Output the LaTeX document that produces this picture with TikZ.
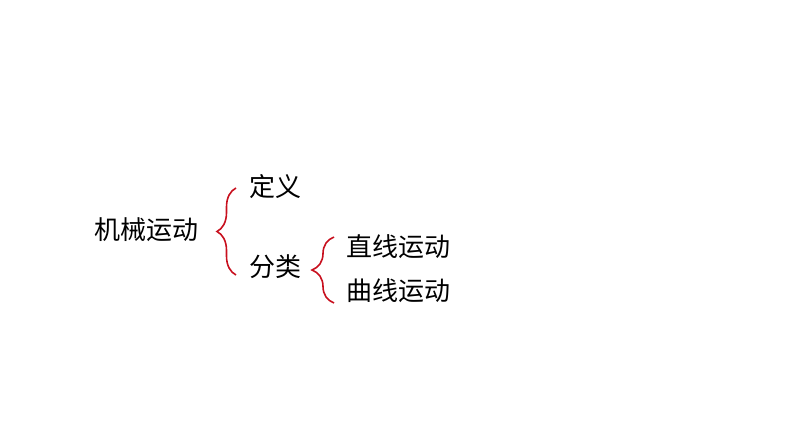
\documentclass[tikz,border=0pt]{standalone}
\usepackage{fontspec}
\newfontfamily\cjk{Noto Sans CJK SC}
\usetikzlibrary{decorations.pathreplacing}
\definecolor{bracered}{RGB}{200,16,30}
\begin{document}
\begin{tikzpicture}[x=1pt,y=-1pt,
  lbl/.style={font=\cjk\fontsize{26}{26}\selectfont, inner sep=0pt, anchor=west, text=black},
  curly/.style={draw=bracered, line width=1.6pt, decorate, decoration={brace, amplitude=#1}}]
\useasboundingbox (0,0) rectangle (794,447);
\node[lbl] (root) at (94,230) {机械运动};
\node[lbl] (def) at (249,187) {定义};
\node[lbl] (cls) at (249,267) {分类};
\node[lbl] (line) at (346,247) {直线运动};
\node[lbl] (curve) at (346,291) {曲线运动};
\coordinate (b1top) at (236,188);
\coordinate (b1bot) at (236,275);
\coordinate (b2top) at (334,237);
\coordinate (b2bot) at (334,303);
\draw[curly=19pt] (b1bot) -- (b1top);
\draw[curly=22pt] (b2bot) -- (b2top);
\end{tikzpicture}
\end{document}
